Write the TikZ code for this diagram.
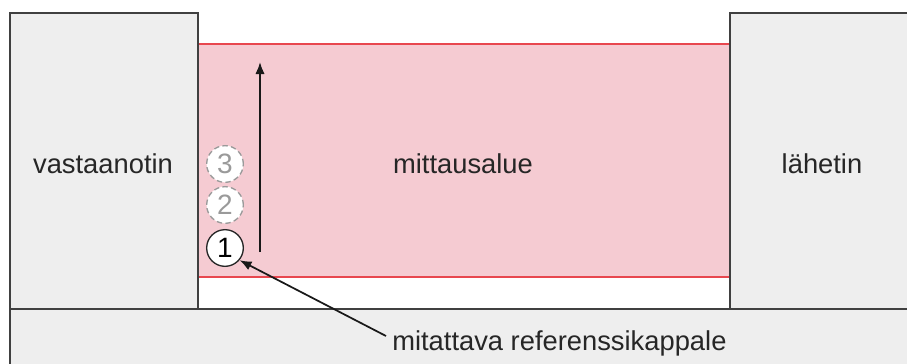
\documentclass[tikz,border=0pt]{standalone}
\usepackage{fontspec}
\setmainfont{Liberation Sans}
\usetikzlibrary{arrows.meta}
\definecolor{boxgray}{HTML}{EEEEEE}
\definecolor{zonepink}{HTML}{F5CBD2}
\definecolor{zonered}{HTML}{E8474F}
\definecolor{dashgray}{HTML}{9A9A9A}
\begin{document}
\begin{tikzpicture}[x=0.75pt,y=-0.75pt,
  lbl/.style={font=\fontsize{20.5}{24}\selectfont,text=black!85,inner sep=0pt},
  blk/.style={fill=boxgray,draw=black!75,line width=1.2pt},
  numc/.style={circle,draw=black!85,line width=1pt,fill=white,minimum size=27.5pt,inner sep=0pt,font=\fontsize{21}{24}\selectfont},
  numd/.style={circle,draw=dashgray,dash pattern=on 4pt off 2.5pt,line width=1pt,fill=white,minimum size=27.5pt,inner sep=0pt,text=dashgray,font=\fontsize{21}{24}\selectfont},
  arr/.style={-{Latex[length=9pt,width=7pt]},line width=1.3pt,black!90}]
\useasboundingbox (0,0) rectangle (907,364);
% pink zone
\fill[zonepink] (198,44) rectangle (730,277);
\draw[zonered,line width=1pt] (198,44) -- (730,44);
\draw[zonered,line width=1pt] (198,277) -- (730,277);
% base
\draw[blk] (10,309) rectangle (920,380);
% side blocks
\draw[blk] (10,13) rectangle (198,309);
\draw[blk] (730,13) rectangle (920,309);
% labels
\node[lbl] (recv) at (103,164) {vastaanotin};
\node[lbl] (zone) at (463,164) {mittausalue};
\node[lbl] (send) at (822,164) {lähetin};
\node[lbl,anchor=west] (ref) at (392,343) {mitattava referenssikappale};
% circles
\node[numd] (c3) at (225,164) {3};
\node[numd] (c2) at (225,205) {2};
\node[numc] (c1) at (225,248) {1};
% movement arrow
\coordinate (a0) at (260,252);
\coordinate (a1) at (260,62);
\draw[arr] (a0) -- (a1);
% pointer arrow
\coordinate (p0) at (386,336);
\draw[arr] (p0) -- (c1.-40);
\end{tikzpicture}
\end{document}
